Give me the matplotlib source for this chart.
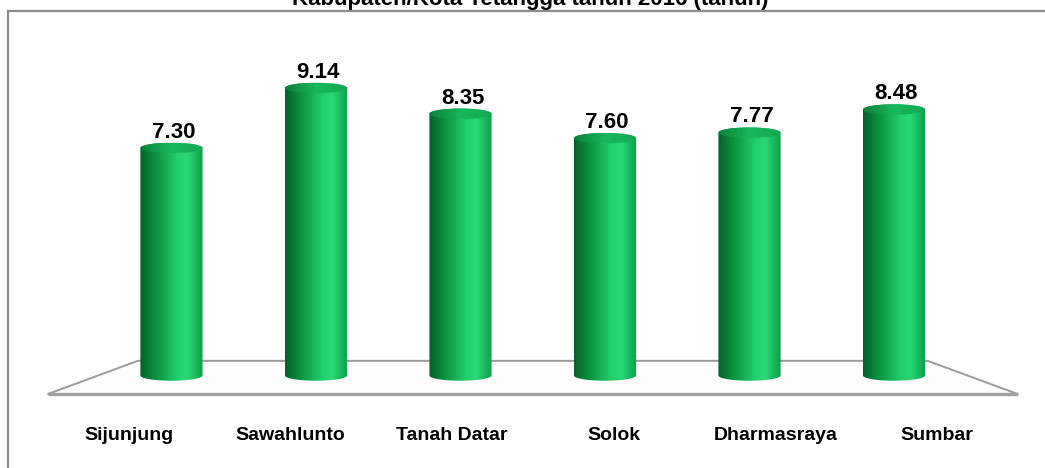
import numpy as np
import matplotlib.pyplot as plt
from matplotlib.colors import LinearSegmentedColormap
from matplotlib.patches import Polygon, Ellipse
from matplotlib.path import Path
from matplotlib.lines import Line2D

plt.rcParams['font.family'] = ['Liberation Sans', 'DejaVu Sans']

# Rata-rata lama sekolah per kabupaten/kota
wilayah = ['Sijunjung', 'Sawahlunto', 'Tanah Datar', 'Solok', 'Dharmasraya', 'Sumbar']
nilai = [7.30, 9.14, 8.35, 7.60, 7.77, 8.48]
judul = 'Kabupaten/Kota Tetangga tahun 2016 (tahun)'

# warna silinder: gelap di kiri, terang di kanan tengah
body_cmap = LinearSegmentedColormap.from_list('body', [
    (0.0, '#05602a'), (0.25, '#0b9340'), (0.6, '#22cf6c'),
    (0.75, '#2ad876'), (1.0, '#0f9e4a')])
top_cmap = LinearSegmentedColormap.from_list('top', [
    (0.0, '#0a8038'), (0.5, '#19b85c'), (1.0, '#14a752')])

fig = plt.figure(figsize=(10.45, 4.68), dpi=100)
ax = fig.add_axes([0.0258, 0.082, 0.968, 0.8707])
ax.set_xlim(-1, 6)
ax.set_ylim(-1.5, 11)
ax.axis('off')

n = len(wilayah)
mid = (n - 1) / 2
back_scale, front_scale = 0.911, 1.119
back_y, front_y = 0.61, -0.41

# lantai grafik (perspektif)
floor = Polygon([(mid - (mid + 0.5) * back_scale, back_y),
                 (mid + (mid + 0.5) * back_scale, back_y),
                 (mid + (mid + 0.5) * front_scale, front_y),
                 (mid - (mid + 0.5) * front_scale, front_y)],
                closed=True, facecolor='#fdfdfd', edgecolor='#9a9a9a',
                lw=1.4, zorder=1, clip_on=False)
ax.add_patch(floor)
ax.plot([mid - (mid + 0.5) * front_scale, mid + (mid + 0.5) * front_scale],
        [front_y, front_y], color='#a3a3a3', lw=2.4, zorder=1,
        solid_capstyle='butt', clip_on=False)

w = 0.43
eh = 0.16  # setengah tinggi elips dalam satuan data
t = np.linspace(0, np.pi, 60)
grad = np.linspace(0, 1, 256).reshape(1, -1)

for i, v in enumerate(nilai):
    x0, x1 = i - w / 2, i + w / 2
    # badan silinder: sisi kiri, elips bawah, sisi kanan, elips atas
    bottom = np.column_stack([i - w / 2 * np.cos(t), eh - eh * np.sin(t)])
    top = np.column_stack([i + w / 2 * np.cos(t), v - eh + eh * np.sin(t)])
    verts = np.vstack([[x0, v - eh], bottom, top])
    clip = Path(verts, closed=False)
    im = ax.imshow(grad, cmap=body_cmap, aspect='auto',
                   extent=[x0, x1, 0, v], zorder=3, interpolation='bilinear')
    im.set_clip_path(clip, ax.transData)

    cap = Ellipse((i, v - eh), w, 2 * eh, transform=ax.transData)
    im2 = ax.imshow(grad, cmap=top_cmap, aspect='auto',
                    extent=[x0, x1, v - 2 * eh, v], zorder=4,
                    interpolation='bilinear')
    im2.set_clip_path(cap)

    ax.annotate(f'{v:.2f}', xy=(i, v), xytext=(2, 5),
                textcoords='offset pixels', ha='center', va='baseline',
                fontsize=16, fontweight='bold', color='black', zorder=5)

    # label kategori di tepi depan lantai
    ax.text(mid + (i - mid) * front_scale, -1.82, wilayah[i], ha='center',
            va='baseline', fontsize=14, fontweight='bold', color='black')

ax.set_xlim(-1, 6)
ax.set_ylim(-1.5, 11)

# bingkai area grafik
fig.add_artist(Line2D([7.5 / 1045, 7.5 / 1045], [0, 1 - 11 / 468],
                      color='#8c8c8c', lw=1.6))
fig.add_artist(Line2D([7.5 / 1045, 1], [1 - 11 / 468, 1 - 11 / 468],
                      color='#8c8c8c', lw=1.6))

fig.text(0.507, 1 - 5 / 468, judul, ha='center', va='baseline',
         fontsize=16, fontweight='bold', color='black')

fig.savefig('out.png', dpi=100)
